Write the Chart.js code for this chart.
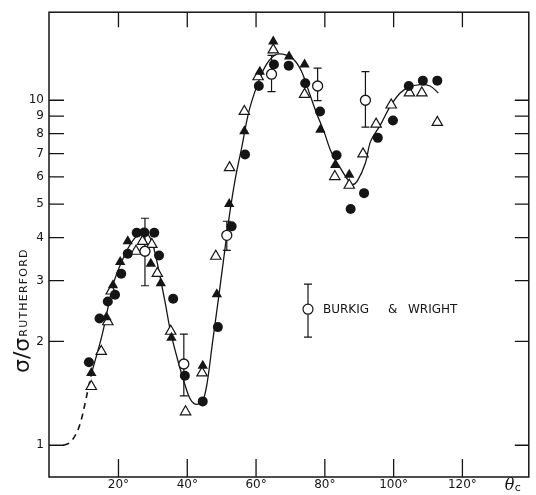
<!DOCTYPE html>
<html><head><meta charset="utf-8">
<script src="https://cdn.jsdelivr.net/npm/chart.js@4.4.0/dist/chart.umd.min.js"></script>
<style>html,body{margin:0;padding:0;background:#fff;}#wrap{width:536px;height:495px;position:relative;}</style>
</head><body><div id="wrap"><canvas id="c" width="536" height="495"></canvas></div>
<script>
// ---- data (theta_c in degrees, sigma/sigma_Rutherford) ----
const filledCircleX = [11.4,14.5,16.9,19.0,20.8,22.7,25.3,27.5,30.4,31.8,35.9,39.3,44.5,48.9,52.9,56.8,60.8,65.2,69.5,74.3,78.6,83.4,87.5,91.4,95.4,99.8,104.4,108.5,112.7];
const filledCircleY = [1.74,2.33,2.61,2.73,3.14,3.59,4.13,4.14,4.13,3.55,2.66,1.59,1.34,2.20,4.31,6.96,11.0,12.7,12.6,11.2,9.28,6.93,4.84,5.38,7.78,8.74,11.0,11.4,11.4];

const filledTriX = [12.1,16.5,18.4,20.5,22.7,29.4,32.3,35.4,44.5,48.6,52.2,56.6,61.1,65.0,69.6,74.1,78.7,83.0,87.1];
const filledTriY = [1.62,2.35,2.91,3.40,3.90,3.36,2.95,2.05,1.70,2.74,5.0,8.13,12.1,14.8,13.4,12.7,8.22,6.49,6.08];

const openTriX = [12.1,15.0,16.9,17.9,25.1,27.0,29.7,31.3,35.2,39.5,44.3,48.3,52.3,56.6,60.6,65.0,74.1,82.9,87.1,91.1,94.9,99.3,104.6,108.2,112.7];
const openTriY = [1.48,1.87,2.28,2.80,3.65,3.90,3.82,3.15,2.14,1.25,1.62,3.53,6.38,9.28,11.7,14.0,10.4,6.01,5.67,6.99,8.53,9.69,10.5,10.5,8.63];

// Burkig & Wright (open circles with error bars)
const bwX = [27.7,39.0,51.5,64.5,77.9,91.8];
const bwY = [3.65,1.72,4.06,11.9,11.0,10.0];
const bwLow = [2.90,1.39,3.67,10.6,9.98,8.36];
const bwHigh = [4.55,2.10,4.46,13.5,12.4,12.1];

// fitted curve (dashed extrapolation + solid)
const dashX = [4.0,5.5,7.0,8.4,9.5,10.4,11.2,12.2];
const dashY = [1.0,1.012,1.05,1.12,1.22,1.34,1.46,1.62];
const curveX = [12.2,15.3,18.4,20.3,22.7,24.6,26.5,28.4,29.9,30.9,32.3,33.7,35.2,37.4,39.3,40.7,42.0,43.5,44.7,45.8,47.3,49.0,50.6,52.2,54.0,55.9,57.8,60.1,62.6,65.4,67.8,70.7,73.1,75.5,77.4,79.9,81.8,84.2,86.6,88.0,89.5,91.8,93.3,96.2,99.0,101.9,104.3,107.7,110.6,113.0];
const curveY = [1.62,2.10,2.91,3.29,3.71,3.97,4.12,4.10,3.84,3.51,3.01,2.55,2.12,1.74,1.50,1.37,1.32,1.32,1.36,1.52,1.97,2.63,3.48,4.6,5.95,7.35,9.18,10.9,12.5,13.5,13.6,13.2,12.2,10.5,9.28,8.03,7.1,6.44,5.9,5.7,5.85,6.58,7.6,8.5,9.6,10.5,10.9,11.1,11.0,10.5];

const xTicks = [20,40,60,80,100,120];
const xTickLabels = ['20°','40°','60°','80°','100°','120°'];
const yTicks = [1,2,3,4,5,6,7,8,9,10];
const yTickLabels = ['1','2','3','4','5','6','7','8','9','10'];

const INK = '#151515';
const pts = (xs, ys) => xs.map((x, i) => ({x: x, y: ys[i]}));

const framePlugin = {
  id: 'frame',
  beforeDatasetsDraw(chart) {
    const ctx = chart.ctx, xs = chart.scales.x, ys = chart.scales.y;
    ctx.save();
    ctx.strokeStyle = INK; ctx.lineWidth = 1.2;
    for (let i = 0; i < bwX.length; i++) {
      const px = xs.getPixelForValue(bwX[i]);
      const y1 = ys.getPixelForValue(bwLow[i]), y2 = ys.getPixelForValue(bwHigh[i]);
      ctx.beginPath();
      ctx.moveTo(px, y1); ctx.lineTo(px, y2);
      ctx.moveTo(px - 4, y1); ctx.lineTo(px + 4, y1);
      ctx.moveTo(px - 4, y2); ctx.lineTo(px + 4, y2);
      ctx.stroke();
    }
    ctx.restore();
  },
  afterDraw(chart) {
    const ctx = chart.ctx, a = chart.chartArea, xs = chart.scales.x, ys = chart.scales.y;
    ctx.save();
    ctx.strokeStyle = INK; ctx.lineWidth = 1.5;
    ctx.strokeRect(a.left, a.top, a.right - a.left, a.bottom - a.top);
    ctx.lineWidth = 1.3;
    ctx.beginPath();
    xTicks.forEach(v => {
      const px = xs.getPixelForValue(v);
      ctx.moveTo(px, a.bottom); ctx.lineTo(px, a.bottom - 18);
      ctx.moveTo(px, a.top); ctx.lineTo(px, a.top + 15);
    });
    yTicks.forEach(v => {
      const py = ys.getPixelForValue(v);
      ctx.moveTo(a.left, py); ctx.lineTo(a.left + 15, py);
      ctx.moveTo(a.right, py); ctx.lineTo(a.right - 14, py);
    });
    ctx.stroke();

    // y-axis title: sigma / sigma_RUTHERFORD (rotated)
    ctx.fillStyle = INK;
    ctx.save();
    ctx.translate(29, 373);
    ctx.rotate(-Math.PI / 2);
    ctx.textBaseline = 'alphabetic'; ctx.textAlign = 'left';
    ctx.font = '22px "DejaVu Sans"';
    ctx.fillText('σ/σ', 0, 0);
    const w = ctx.measureText('σ/σ').width;
    ctx.font = '11px "DejaVu Sans"';
    ctx.letterSpacing = '1.2px';
    ctx.fillText('RUTHERFORD', w + 1, -2);
    ctx.restore();

    // x-axis title theta_c
    ctx.textBaseline = 'alphabetic'; ctx.textAlign = 'left';
    ctx.font = 'italic 16px "DejaVu Serif"';
    ctx.fillText('θ', a.right - 24, a.bottom + 13);
    ctx.font = '11px "DejaVu Sans"';
    ctx.fillText('c', a.right - 14, a.bottom + 14);

    // legend
    const lx = a.left + 259, ly = a.top + 297;
    ctx.lineWidth = 1.2;
    ctx.beginPath();
    ctx.moveTo(lx, ly - 25); ctx.lineTo(lx, ly + 28);
    ctx.moveTo(lx - 4, ly - 25); ctx.lineTo(lx + 4, ly - 25);
    ctx.moveTo(lx - 4, ly + 28); ctx.lineTo(lx + 4, ly + 28);
    ctx.stroke();
    ctx.beginPath(); ctx.arc(lx, ly, 5, 0, Math.PI * 2);
    ctx.fillStyle = '#fff'; ctx.fill(); ctx.stroke();
    ctx.fillStyle = INK;
    ctx.font = '12px "DejaVu Sans"'; ctx.textBaseline = 'middle';
    ctx.fillText('BURKIG', lx + 15, ly + 1);
    ctx.fillText('&', lx + 80, ly + 1);
    ctx.fillText('WRIGHT', lx + 100, ly + 1);
    ctx.restore();
  }
};

new Chart(document.getElementById('c'), {
  type: 'scatter',
  data: {
    datasets: [
      {data: pts(bwX, bwY), pointStyle: 'circle', pointRadius: 5, backgroundColor: '#fff', borderColor: INK, borderWidth: 1.3, order: 1},
      {data: pts(filledCircleX, filledCircleY), pointStyle: 'circle', pointRadius: 5, backgroundColor: INK, borderColor: INK, borderWidth: 0, order: 2},
      {data: pts(filledTriX, filledTriY), pointStyle: 'triangle', pointRadius: 6, backgroundColor: INK, borderColor: INK, borderWidth: 0, order: 3},
      {data: pts(openTriX, openTriY), pointStyle: 'triangle', pointRadius: 6, backgroundColor: '#fff', borderColor: INK, borderWidth: 1.2, order: 4},
      {data: pts(curveX, curveY), showLine: true, pointRadius: 0, borderColor: INK, borderWidth: 1.3, tension: 0.35, order: 8},
      {data: pts(dashX, dashY), showLine: true, pointRadius: 0, borderColor: INK, borderWidth: 1.6, borderDash: [6, 5], tension: 0.35, order: 9}
    ]
  },
  options: {
    responsive: false,
    animation: false,
    devicePixelRatio: 1,
    layout: {padding: {top: 8, right: 3, left: 0, bottom: 0}},
    plugins: {legend: {display: false}, tooltip: {enabled: false}},
    scales: {
      x: {
        type: 'linear', min: -0.2, max: 139.3,
        grid: {display: false, drawTicks: false, tickLength: 0}, border: {display: false},
        afterBuildTicks: s => { s.ticks = xTicks.map(v => ({value: v})); },
        afterFit: s => { s.height = 18; },
        ticks: {
          autoSkip: false, maxRotation: 0, padding: 1, color: INK,
          font: {family: 'DejaVu Sans', size: 12},
          callback: (v, i) => xTickLabels[i]
        }
      },
      y: {
        type: 'logarithmic', min: 0.809, max: 18.0,
        grid: {display: false, drawTicks: false, tickLength: 0}, border: {display: false},
        afterBuildTicks: s => { s.ticks = yTicks.map(v => ({value: v})); },
        afterFit: s => { s.width = 49; },
        ticks: {
          autoSkip: false, padding: 5, color: INK,
          font: {family: 'DejaVu Sans', size: 12},
          callback: (v, i) => yTickLabels[i]
        }
      }
    }
  },
  plugins: [framePlugin]
});
</script>
</body></html>
